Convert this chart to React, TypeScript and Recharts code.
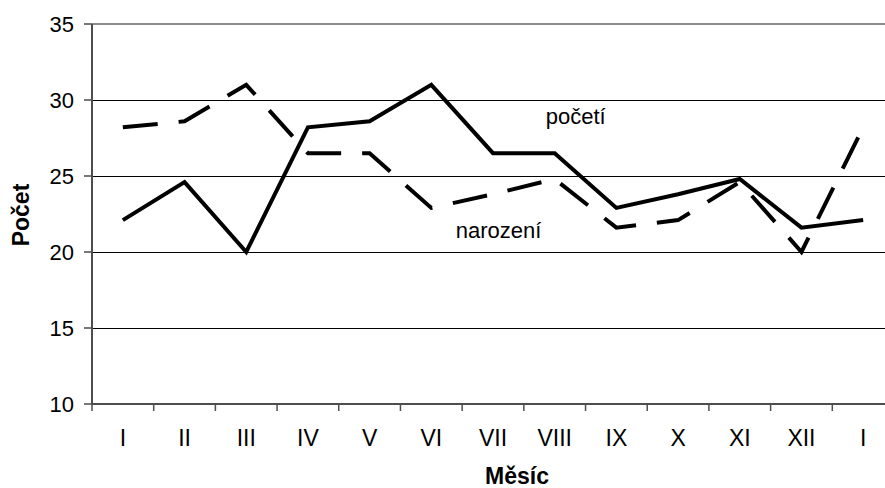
import React from 'react';
import { LineChart, Line, XAxis, YAxis, CartesianGrid, ReferenceLine, ReferenceDot } from 'recharts';

const months = ['I', 'II', 'III', 'IV', 'V', 'VI', 'VII', 'VIII', 'IX', 'X', 'XI', 'XII', 'I'];
const conception = [22.1, 24.6, 20.0, 28.2, 28.6, 31.0, 26.5, 26.5, 22.9, 23.8, 24.8, 21.6, 22.1];
const birth = [28.2, 28.6, 31.0, 26.5, 26.5, 22.9, 23.8, 24.8, 21.6, 22.1, 24.6, 20.0, 28.2];
const yTicks = [10, 15, 20, 25, 30, 35];
const seriesNames = { conception: 'početí', birth: 'narození' };
const axisTitles = { x: 'Měsíc', y: 'Počet' };

const data = months.map((m, i) => ({ idx: i, month: m, conception: conception[i], birth: birth[i] }));

const FONT = '"Liberation Sans", Arial, sans-serif';
const CHART_W = 905;
const CHART_H = 488;
const MARGIN = { top: 24, right: 11, bottom: 0, left: 0 };
const Y_AXIS_W = 92;
const X_AXIS_H = 84;
const PLOT_W = CHART_W - MARGIN.left - MARGIN.right - Y_AXIS_W;
const STEP = PLOT_W / months.length;
const AXIS_COLOR = '#4d4d4d';

const XTick = (props: any) => {
  const { x, y, payload } = props;
  return (
    <g>
      <line x1={x - STEP / 2} x2={x - STEP / 2} y1={y} y2={y + 7} stroke={AXIS_COLOR} strokeWidth={1.5} />
      <text x={x} y={y + 42} textAnchor="middle" fontSize={23} fontFamily={FONT} fill="#000">
        {months[payload.value]}
      </text>
    </g>
  );
};

const XTitle = (props: any) => {
  const vb = props.viewBox;
  return (
    <text x={vb.x + vb.width / 2 + 24} y={vb.y + 80} textAnchor="middle" fontSize={23} fontWeight="bold" fontFamily={FONT} fill="#000">
      {axisTitles.x}
    </text>
  );
};

const YTitle = (props: any) => {
  const vb = props.viewBox;
  const cx = vb.x + 29;
  const cy = vb.y + vb.height / 2 + 1;
  return (
    <text x={cx} y={cy} transform={`rotate(-90 ${cx} ${cy})`} textAnchor="middle" fontSize={23} fontWeight="bold" fontFamily={FONT} fill="#000">
      {axisTitles.y}
    </text>
  );
};

const makeAnno = (text: string, dx: number) => (props: any) => {
  const vb = props.viewBox;
  const cx = vb.x + (vb.width || 0) / 2;
  const cy = vb.y + (vb.height || 0) / 2;
  return (
    <text x={cx + dx} y={cy} textAnchor="middle" fontSize={22} fontFamily={FONT} fill="#000">
      {text}
    </text>
  );
};

export default function App() {
  return (
    <div style={{ position: 'absolute', left: 0, top: 0, width: 885, height: 488, overflow: 'hidden', background: '#fff' }}>
      <LineChart width={CHART_W} height={CHART_H} data={data} margin={MARGIN}>
        <CartesianGrid vertical={false} stroke="#000" strokeWidth={1} shapeRendering="crispEdges" />
        <ReferenceLine y={35} stroke="#8c8c8c" strokeWidth={2} />
        <XAxis
          dataKey="idx"
          type="category"
          height={X_AXIS_H}
          padding={{ left: STEP / 2, right: STEP / 2 }}
          axisLine={{ stroke: AXIS_COLOR, strokeWidth: 2 }}
          tickLine={false}
          tickSize={0}
          tickMargin={0}
          tick={<XTick />}
          interval={0}
          label={{ content: XTitle }}
        />
        <YAxis
          type="number"
          domain={[10, 35]}
          ticks={yTicks}
          width={Y_AXIS_W}
          axisLine={{ stroke: AXIS_COLOR, strokeWidth: 2 }}
          tickLine={{ stroke: AXIS_COLOR, strokeWidth: 1.5 }}
          tickSize={8}
          tickMargin={10}
          tick={{ fontSize: 22, fill: '#000', fontFamily: FONT }}
          label={{ content: YTitle }}
        />
        <Line
          type="linear"
          dataKey="birth"
          stroke="#000"
          strokeWidth={4}
          strokeDasharray="35 21"
          dot={false}
          isAnimationActive={false}
        />
        <Line
          type="linear"
          dataKey="conception"
          stroke="#000"
          strokeWidth={4}
          dot={false}
          isAnimationActive={false}
        />
        <ReferenceDot x={7} y={28.42} r={0} fill="none" stroke="none" label={{ content: makeAnno(seriesNames.conception, 21) }} />
        <ReferenceDot x={6} y={20.9} r={0} fill="none" stroke="none" label={{ content: makeAnno(seriesNames.birth, 5.5) }} />
      </LineChart>
    </div>
  );
}
